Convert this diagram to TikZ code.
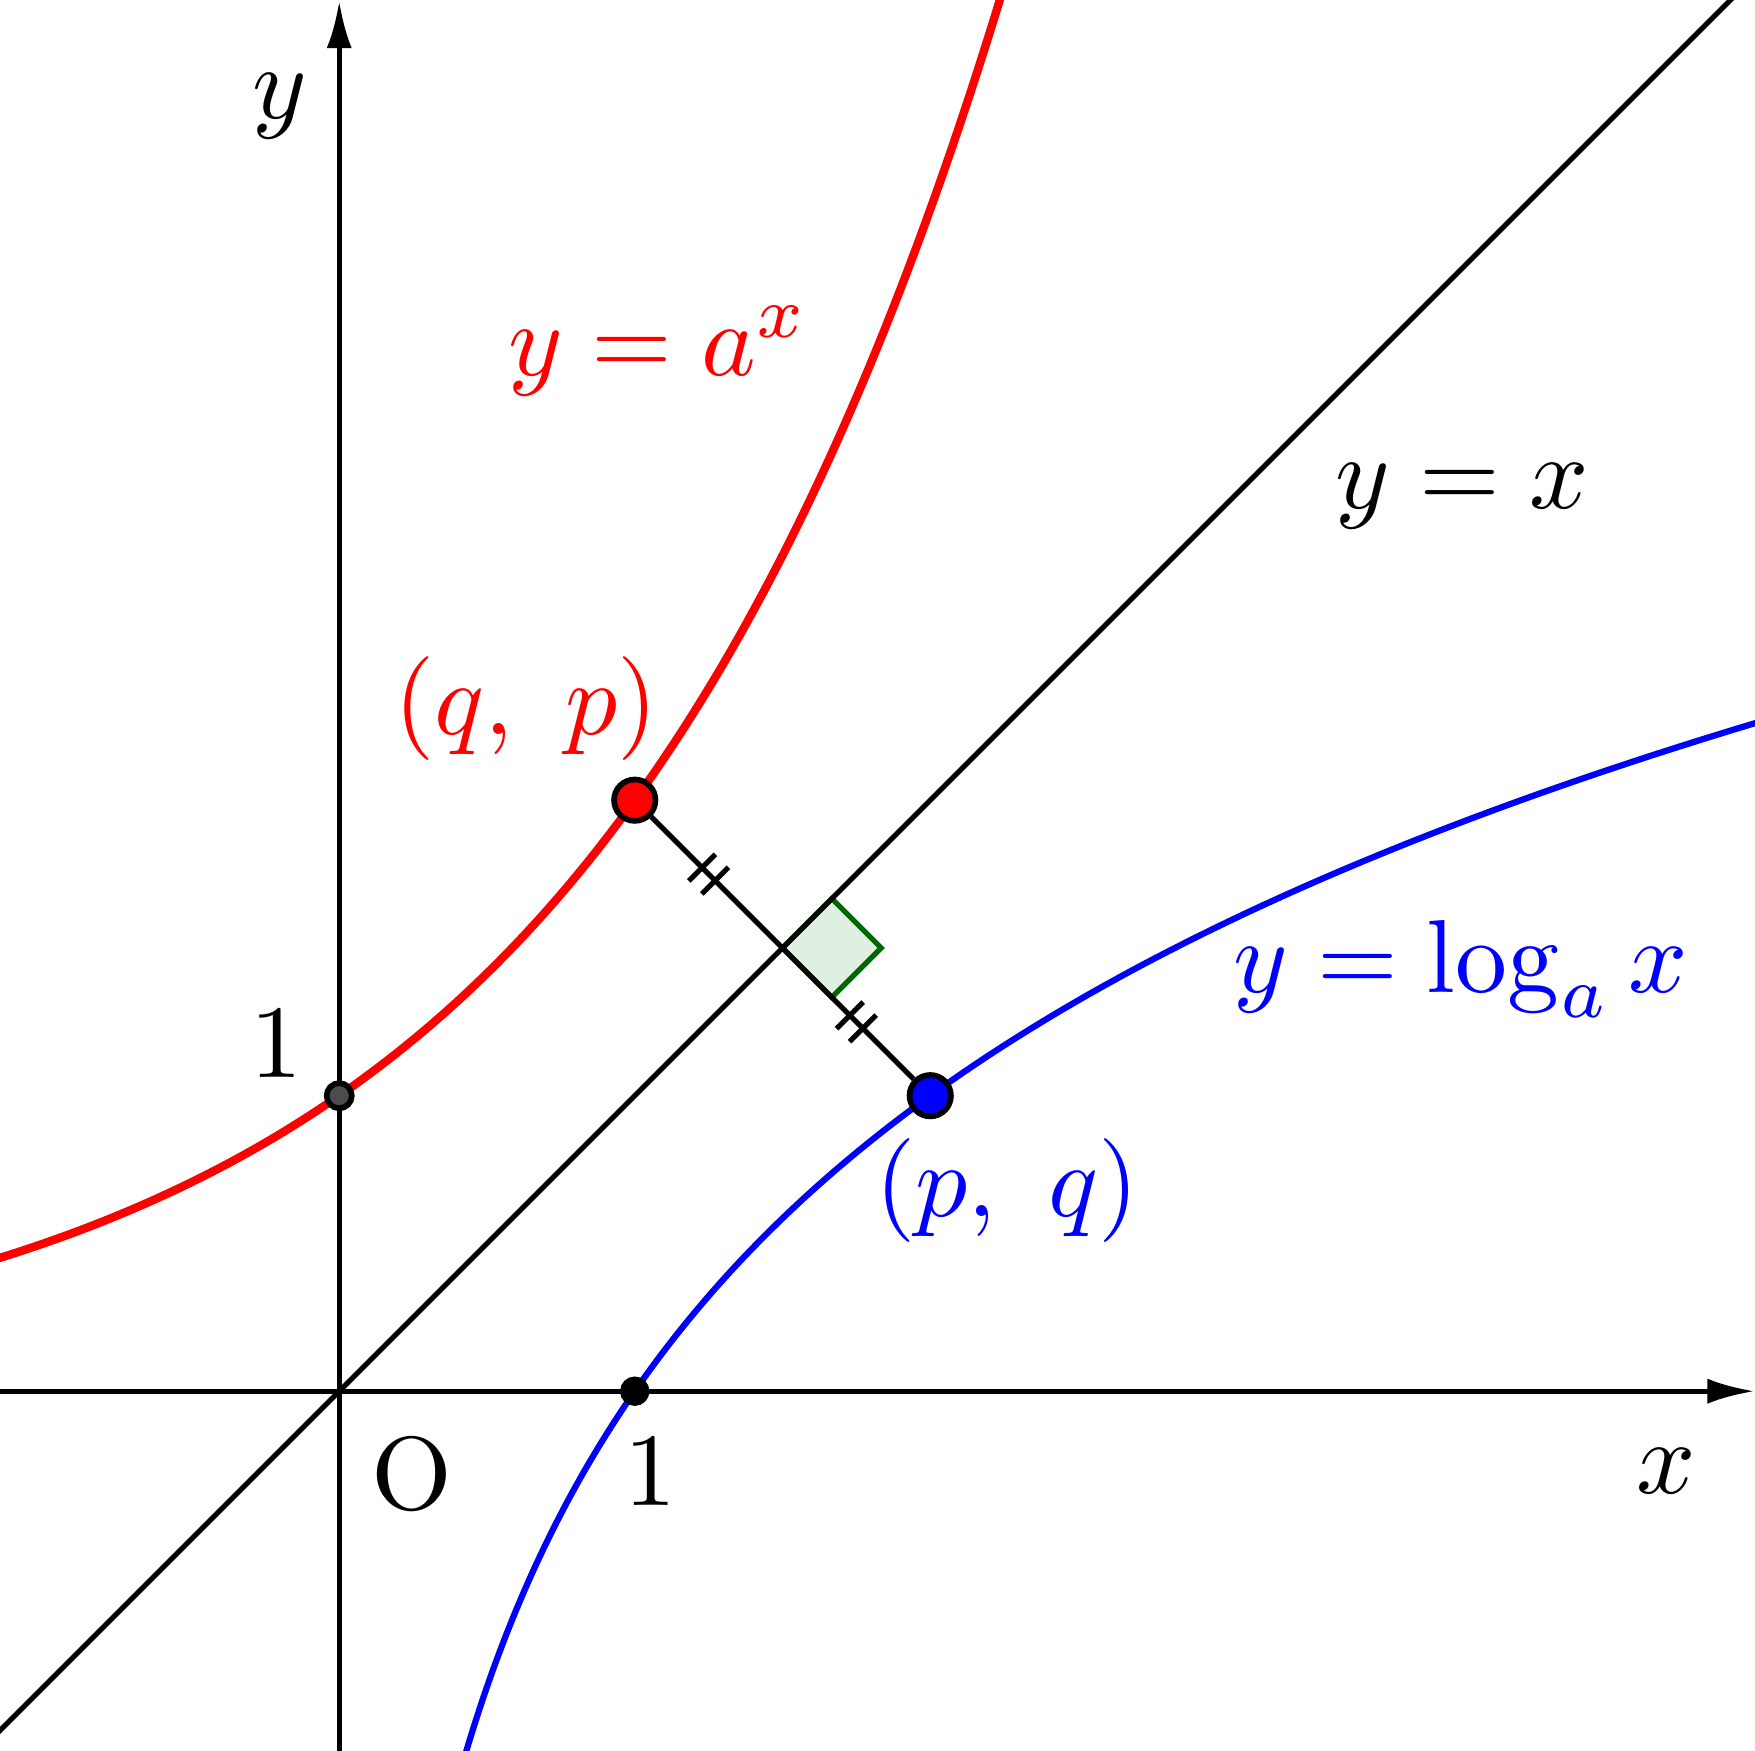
\documentclass[tikz,border=0pt]{standalone}
\usetikzlibrary{arrows.meta}
\begin{document}
\begin{tikzpicture}[
  ax/.style={line width=0.5pt,-{Latex[length=1.6mm,width=0.85mm]}},
  tick/.style={line width=0.5pt},
  dot/.style={circle,draw=black,line width=0.55pt,inner sep=0pt,minimum size=#1},
]
\useasboundingbox (-1.148,-1.217) rectangle (4.791,4.708);
\clip (-1.148,-1.217) rectangle (4.791,4.708);
% axes
\coordinate (xl) at (-1.148,0); \coordinate (xr) at (4.79,0);
\coordinate (yb) at (0,-1.217); \coordinate (yt) at (0,4.705);
\draw[ax] (xl) -- (xr);
\draw[ax] (yb) -- (yt);
% y = x
\coordinate (dl) at (-1.3,-1.3); \coordinate (dr) at (4.8,4.8);
% right angle mark
\coordinate (m) at (1.5,1.5);
\filldraw[fill=green!50!black!12,draw=green!40!black,line width=0.5pt]
  (m) -- (1.667,1.667) -- (1.834,1.5) -- (1.667,1.333) -- cycle;
\draw[line width=0.5pt] (dl) -- (dr);
% curves
\draw[red,line width=0.8pt,domain=-1.2:2.25,samples=120] plot (\x,{2^(\x)});
\draw[blue,line width=0.6pt,domain=-1.25:2.3,samples=120] plot ({2^(\x)},\x);
% segment
\node[dot=0.14cm,fill=red] (P) at (1,2) {};
\node[dot=0.14cm,fill=blue] (Q) at (2,1) {};
\draw[line width=0.5pt] (P) -- (Q);
% tick marks
\foreach \c in {1.25,1.75}{
  \foreach \o in {-0.022,0.022}{
    \draw[tick] ({\c+\o-0.045},{3-\c-\o-0.045}) -- ({\c+\o+0.045},{3-\c-\o+0.045});
  }
}
\node[dot=0.085cm,fill=black!70] (A) at (0,1) {};
\node[dot=0.08cm,fill=black] (B) at (1,0) {};
% labels
\node (ly) at (-0.2,4.35) {$y$};
\node (lx) at (4.49,-0.27) {$x$};
\node (lo) at (0.246,-0.28) {O};
\node (l1x) at (1.053,-0.27) {1};
\node (l1y) at (-0.212,1.18) {1};
\node[red] (lr) at (1.08,3.52) {$y=a^x$};
\node[red] (lqp) at (0.633,2.31) {$(q,\ p)$};
\node (ld) at (3.80,3.03) {$y=x$};
\node[blue] (lb) at (3.795,1.43) {$y=\log_a x$};
\node[blue] (lpq) at (2.26,0.68) {$(p,\ q)$};
\end{tikzpicture}
\end{document}
